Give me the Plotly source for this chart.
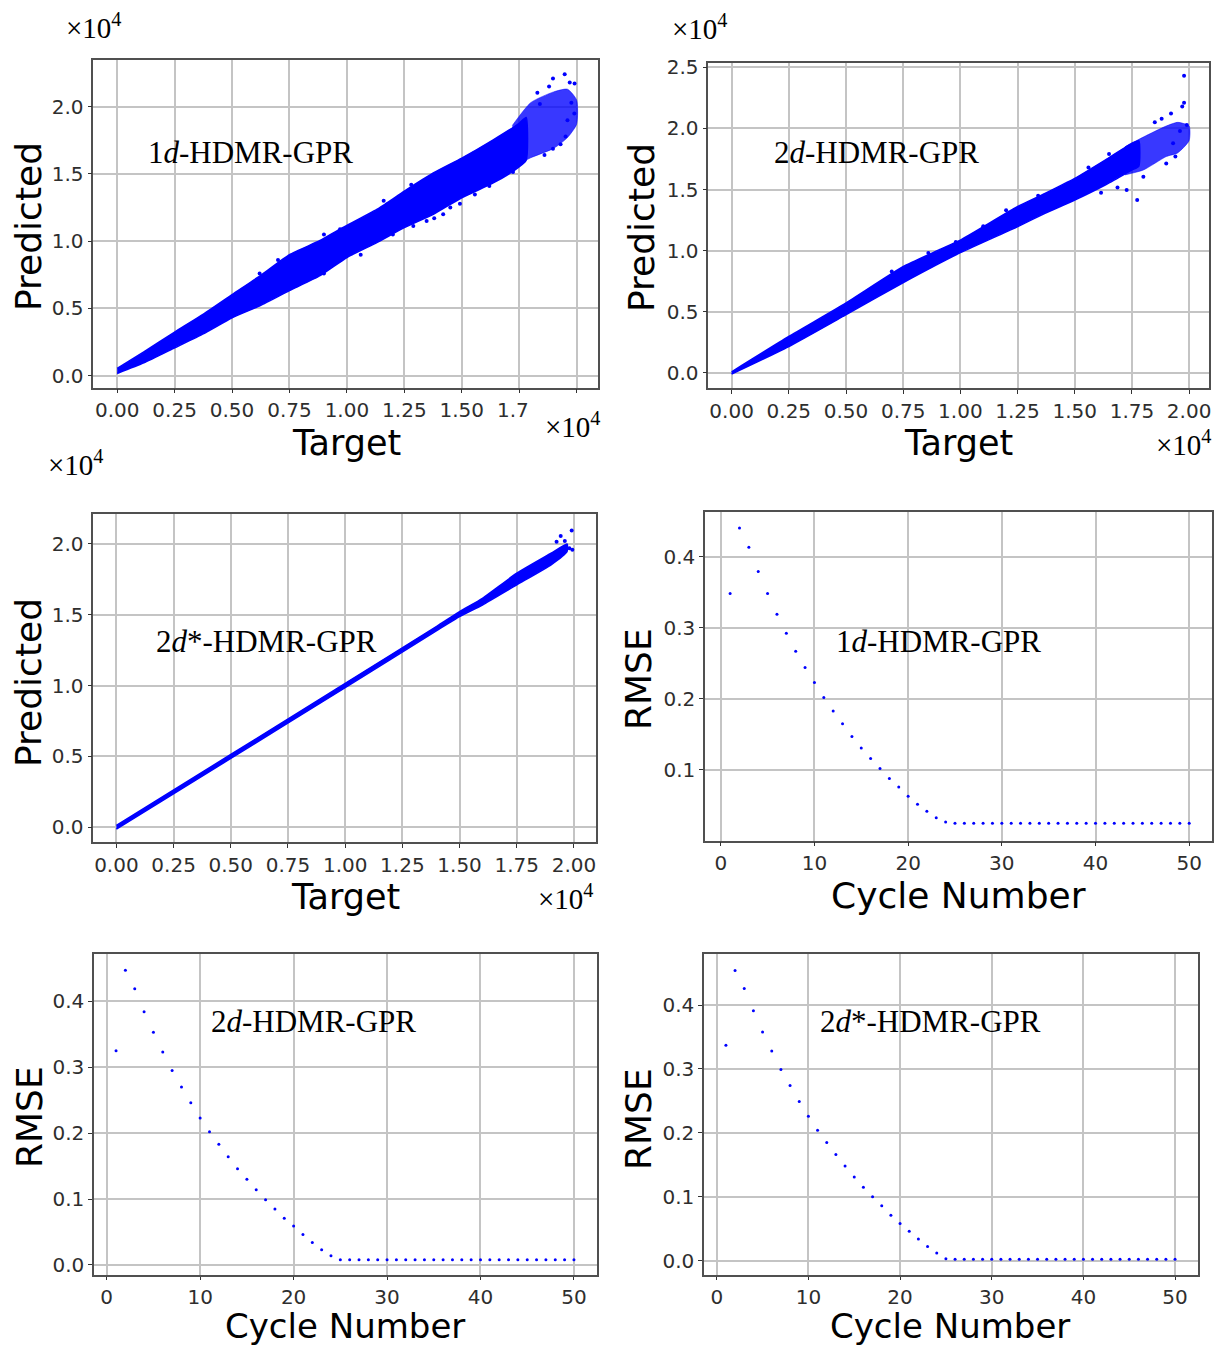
import plotly.graph_objects as go

W, H = 1215, 1347

# ---------------- data (values in units of 1e4) ----------------
# 1d-HDMR-GPR: dense cloud envelope
t1_upper_x = [0.0, 0.116, 0.25, 0.377, 0.5, 0.623, 0.75, 0.883, 0.97, 1.13, 1.25, 1.376, 1.5, 1.637, 1.75, 1.78]
t1_upper_y = [0.054, 0.177, 0.325, 0.46, 0.603, 0.744, 0.90, 1.005, 1.09, 1.236, 1.372, 1.507, 1.618, 1.754, 1.877, 1.92]
t1_lower_x = [1.78, 1.723, 1.637, 1.5, 1.376, 1.25, 1.13, 1.0, 0.883, 0.75, 0.623, 0.5, 0.377, 0.25, 0.116, 0.0]
t1_lower_y = [1.60, 1.52, 1.433, 1.323, 1.20, 1.101, 0.99, 0.879, 0.744, 0.633, 0.522, 0.431, 0.313, 0.207, 0.096, 0.017]
# 1d: sparse top-right region
s1_x = [1.72, 1.80, 1.90, 1.96, 2.00, 2.00, 1.96, 1.90, 1.80, 1.72]
s1_y = [1.86, 2.03, 2.11, 2.13, 2.05, 1.87, 1.77, 1.69, 1.62, 1.55]
o1_x = [1.948, 1.897, 1.991, 1.970, 1.829, 1.977, 1.952, 1.897, 1.723, 1.557, 1.492, 1.419, 1.347, 1.289, 1.173,
        0.970, 1.173, 1.930, 1.860, 1.620, 1.450, 1.380, 1.100, 1.050, 1.880, 1.960,
        0.900, 1.280, 1.160, 0.620, 0.700, 0.780, 0.900, 1.060, 1.200, 1.840, 1.990, 1.700]
o1_y = [2.241, 2.209, 2.172, 2.180, 2.103, 2.030, 1.778, 1.687, 1.515, 1.347, 1.278, 1.200, 1.150, 1.113, 1.052,
        1.089, 1.273, 1.720, 1.640, 1.410, 1.250, 1.170, 0.980, 0.950, 2.150, 1.900,
        1.050, 1.420, 1.300, 0.760, 0.860, 0.670, 0.760, 0.900, 1.050, 2.020, 1.950, 1.600]

# 2d-HDMR-GPR
t2_upper_x = [0.0, 0.248, 0.497, 0.749, 0.904, 1.0, 1.249, 1.37, 1.5, 1.633, 1.749, 1.78]
t2_upper_y = [0.008, 0.295, 0.568, 0.868, 1.004, 1.086, 1.359, 1.468, 1.591, 1.741, 1.878, 1.90]
t2_lower_x = [1.78, 1.749, 1.633, 1.5, 1.37, 1.249, 1.0, 0.749, 0.497, 0.248, 0.0]
t2_lower_y = [1.69, 1.659, 1.537, 1.414, 1.305, 1.195, 0.983, 0.737, 0.472, 0.213, -0.01]
s2_x = [1.72, 1.80, 1.90, 1.95, 2.00, 2.00, 1.95, 1.90, 1.80, 1.72]
s2_y = [1.85, 1.93, 2.02, 2.05, 2.02, 1.90, 1.80, 1.77, 1.66, 1.62]
o2_x = [1.978, 1.978, 1.970, 1.921, 1.990, 1.773, 1.727, 1.687, 1.615, 1.900, 1.940, 1.800, 1.880, 1.850,
        1.960, 1.340, 0.980, 1.200, 1.100, 1.930, 0.700, 0.860, 1.560, 1.650]
o2_y = [2.432, 2.211, 2.180, 2.123, 2.028, 1.414, 1.496, 1.517, 1.474, 1.714, 1.770, 1.605, 2.080, 2.050,
        1.980, 1.450, 1.070, 1.330, 1.200, 1.880, 0.830, 0.980, 1.680, 1.790]

# 2d*-HDMR-GPR
t3_upper_x = [0.0, 0.5, 1.0, 1.4, 1.5, 1.6, 1.75, 1.9, 1.97]
t3_upper_y = [0.013, 0.514, 1.015, 1.418, 1.522, 1.616, 1.793, 1.934, 2.0]
t3_lower_x = [1.97, 1.9, 1.75, 1.6, 1.5, 1.4, 1.0, 0.5, 0.0]
t3_lower_y = [1.946, 1.852, 1.711, 1.569, 1.487, 1.388, 0.985, 0.486, -0.013]
o3_x = [1.990, 1.942, 1.924, 1.993, 1.960, 1.980]
o3_y = [2.094, 2.056, 2.016, 1.958, 2.020, 1.970]

# RMSE vs cycle number
cycles = list(range(1, 51))
rmse_1d = [0.348, 0.440, 0.413, 0.379, 0.348, 0.319, 0.292, 0.267, 0.244, 0.223,
           0.202, 0.183, 0.165, 0.147, 0.131, 0.116, 0.102, 0.088, 0.076, 0.063,
           0.052, 0.042, 0.033, 0.027, 0.025, 0.025, 0.025, 0.025, 0.025, 0.025,
           0.025, 0.025, 0.025, 0.025, 0.025, 0.025, 0.025, 0.025, 0.025, 0.025,
           0.025, 0.025, 0.025, 0.025, 0.025, 0.025, 0.025, 0.025, 0.025, 0.025]
rmse_2d = [0.325, 0.447, 0.419, 0.384, 0.353, 0.323, 0.295, 0.270, 0.246, 0.223,
           0.202, 0.183, 0.164, 0.146, 0.130, 0.114, 0.099, 0.085, 0.071, 0.059,
           0.046, 0.034, 0.023, 0.014, 0.008, 0.008, 0.008, 0.008, 0.008, 0.008,
           0.008, 0.008, 0.008, 0.008, 0.008, 0.008, 0.008, 0.008, 0.008, 0.008,
           0.008, 0.008, 0.008, 0.008, 0.008, 0.008, 0.008, 0.008, 0.008, 0.008]
rmse_2ds = [0.337, 0.454, 0.426, 0.391, 0.358, 0.328, 0.299, 0.274, 0.249, 0.226,
            0.204, 0.185, 0.166, 0.148, 0.131, 0.115, 0.100, 0.086, 0.071, 0.058,
            0.046, 0.034, 0.022, 0.012, 0.003, 0.002, 0.002, 0.002, 0.002, 0.002,
            0.002, 0.002, 0.002, 0.002, 0.002, 0.002, 0.002, 0.002, 0.002, 0.002,
            0.002, 0.002, 0.002, 0.002, 0.002, 0.002, 0.002, 0.002, 0.002, 0.002]

target_ticks = [0.0, 0.25, 0.5, 0.75, 1.0, 1.25, 1.5, 1.75, 2.0]
target_text_1 = ["0.00", "0.25", "0.50", "0.75", "1.00", "1.25", "1.50", "1.75", ""]
target_text = ["0.00", "0.25", "0.50", "0.75", "1.00", "1.25", "1.50", "1.75", "2.00"]
pred_ticks = [0.0, 0.5, 1.0, 1.5, 2.0]
pred_ticks2 = [0.0, 0.5, 1.0, 1.5, 2.0, 2.5]
cycle_ticks = [0, 10, 20, 30, 40, 50]
rmse_ticks4 = [0.1, 0.2, 0.3, 0.4]
rmse_ticks = [0.0, 0.1, 0.2, 0.3, 0.4]

labels = ["1<i>d</i>-HDMR-GPR", "2<i>d</i>-HDMR-GPR", "2<i>d</i>*-HDMR-GPR"]

# ---------------- figure ----------------
BLUE = "#0000ff"
fig = go.Figure()


def px_x(v):
    return v / W


def px_y(v):
    return 1 - v / H


panels = [
    # (x0, x1, ytop, ybottom) in pixels
    (93.3, 598.0, 60.0, 387.7),
    (708.3, 1209.0, 62.5, 388.3),
    (93.3, 595.7, 514.0, 842.3),
    (705.0, 1211.7, 511.7, 840.7),
    (94.0, 597.3, 954.0, 1275.0),
    (704.0, 1197.7, 954.0, 1275.0),
]

scatter_sets = [
    (t1_upper_x, t1_upper_y, t1_lower_x, t1_lower_y, s1_x, s1_y, o1_x, o1_y),
    (t2_upper_x, t2_upper_y, t2_lower_x, t2_lower_y, s2_x, s2_y, o2_x, o2_y),
    (t3_upper_x, t3_upper_y, t3_lower_x, t3_lower_y, None, None, o3_x, o3_y),
]

for i, (ux, uy, lx, ly, sx, sy, ox, oy) in enumerate(scatter_sets):
    xa = "x" if i == 0 else f"x{i+1}"
    ya = "y" if i == 0 else f"y{i+1}"
    if sx is not None:
        fig.add_trace(go.Scatter(x=sx, y=sy, mode="lines", fill="toself",
                                 fillcolor="rgba(0,0,255,0.78)",
                                 line=dict(color="rgba(0,0,255,0.5)", width=1, shape="spline", smoothing=0.6),
                                 xaxis=xa, yaxis=ya, showlegend=False, hoverinfo="skip"))
    fig.add_trace(go.Scatter(x=ux + lx, y=uy + ly, mode="lines", fill="toself",
                             fillcolor=BLUE, line=dict(color=BLUE, width=1.5, shape="spline", smoothing=0.5),
                             xaxis=xa, yaxis=ya, showlegend=False, hoverinfo="skip"))
    fig.add_trace(go.Scatter(x=ox, y=oy, mode="markers", marker=dict(color=BLUE, size=4),
                             xaxis=xa, yaxis=ya, showlegend=False))

for i, r in enumerate([rmse_1d, rmse_2d, rmse_2ds]):
    n = i + 4
    fig.add_trace(go.Scatter(x=cycles, y=r, mode="markers", marker=dict(color=BLUE, size=3),
                             xaxis=f"x{n}", yaxis=f"y{n}", showlegend=False))

ranges = [
    ([-0.104, 2.093], [-0.089, 2.347], target_ticks, target_text_1, pred_ticks, ".1f"),
    ([-0.102, 2.087], [-0.127, 2.54], target_ticks, target_text, pred_ticks2, ".1f"),
    ([-0.101, 2.095], [-0.106, 2.211], target_ticks, target_text, pred_ticks, ".1f"),
    ([-1.68, 52.4], [0.0006, 0.463], cycle_ticks, None, rmse_ticks4, ".1f"),
    ([-1.36, 52.5], [-0.0153, 0.4718], cycle_ticks, None, rmse_ticks, ".1f"),
    ([-1.39, 52.47], [-0.0225, 0.48], cycle_ticks, None, rmse_ticks, ".1f"),
]

tick_font = dict(family="DejaVu Sans", size=20, color="#2e2e2e")
common = dict(showgrid=True, gridcolor="#c4c4c4", gridwidth=1.5, zeroline=False,
              showline=True, linecolor="#505050", linewidth=1.5, mirror=True, automargin=False,
              ticks="outside", ticklen=4, tickcolor="#333333", tickfont=tick_font)

layout_axes = {}
for i, ((x0, x1, yt, yb), (xr, yr, xt, xtt, yt_vals, yf)) in enumerate(zip(panels, ranges)):
    sfx = "" if i == 0 else str(i + 1)
    xa = dict(domain=[px_x(x0), px_x(x1)], range=xr, tickvals=xt, anchor=f"y{sfx}", **common)
    if xtt is not None:
        xa["ticktext"] = xtt
    if i >= 4:
        xa["ticklen"] = 3
    layout_axes[f"xaxis{sfx}"] = xa
    layout_axes[f"yaxis{sfx}"] = dict(domain=[px_y(yb), px_y(yt)], range=yr, tickvals=yt_vals,
                                      tickformat=yf, anchor=f"x{sfx}", **common)

annotations = []


def ann(text, x, y, size, family, angle=0, yanchor="middle", pad=1):
    annotations.append(dict(text=text, x=px_x(x), y=px_y(y), xref="paper", yref="paper",
                            xanchor="center", yanchor=yanchor, showarrow=False, textangle=angle,
                            borderpad=pad, font=dict(family=family, size=size, color="#000000")))


SANS = "DejaVu Sans"
SERIF = "Liberation Serif"
# axis titles
for (x, y) in [(29, 227), (642, 227), (29, 683)]:
    ann("Predicted", x, y, 36, SANS, -90)
for (x, y) in [(346, 443), (958, 443), (345, 897)]:
    ann("Target", x, y, 35, SANS)
for (x, y) in [(638, 679), (29, 1117), (638, 1119)]:
    ann("RMSE", x, y, 36, SANS, -90)
ann("Cycle Number", 958, 895, 36, SANS)
for x in [345, 950]:
    ann("Cycle Number", x, 1347, 34, SANS, yanchor="bottom", pad=0)

# method labels
for txt, (x, y) in zip([labels[0], labels[1], labels[2], labels[0], labels[1], labels[2]],
                       [(251, 153), (876, 153), (266, 641), (938, 641), (313, 1021), (930, 1021)]):
    ann(txt, x, y, 31, SERIF)

# scale factor labels
for (x, y) in [(94, 26), (700, 27), (573, 425), (1184, 443), (76, 463), (566, 897)]:
    ann("×10<sup>4</sup>", x, y, 29, SERIF)

shapes = [dict(type="rect", xref="paper", yref="paper", x0=px_x(528), x1=px_x(545),
               y0=px_y(420), y1=px_y(394), fillcolor="white", line=dict(width=0), layer="above")]

fig.update_layout(width=W, height=H, margin=dict(l=0, r=0, t=0, b=0, pad=0, autoexpand=False),
                  paper_bgcolor="white", plot_bgcolor="white",
                  annotations=annotations, shapes=shapes, **layout_axes)

fig.write_html("out.html", post_script="document.body.style.margin='0';")
